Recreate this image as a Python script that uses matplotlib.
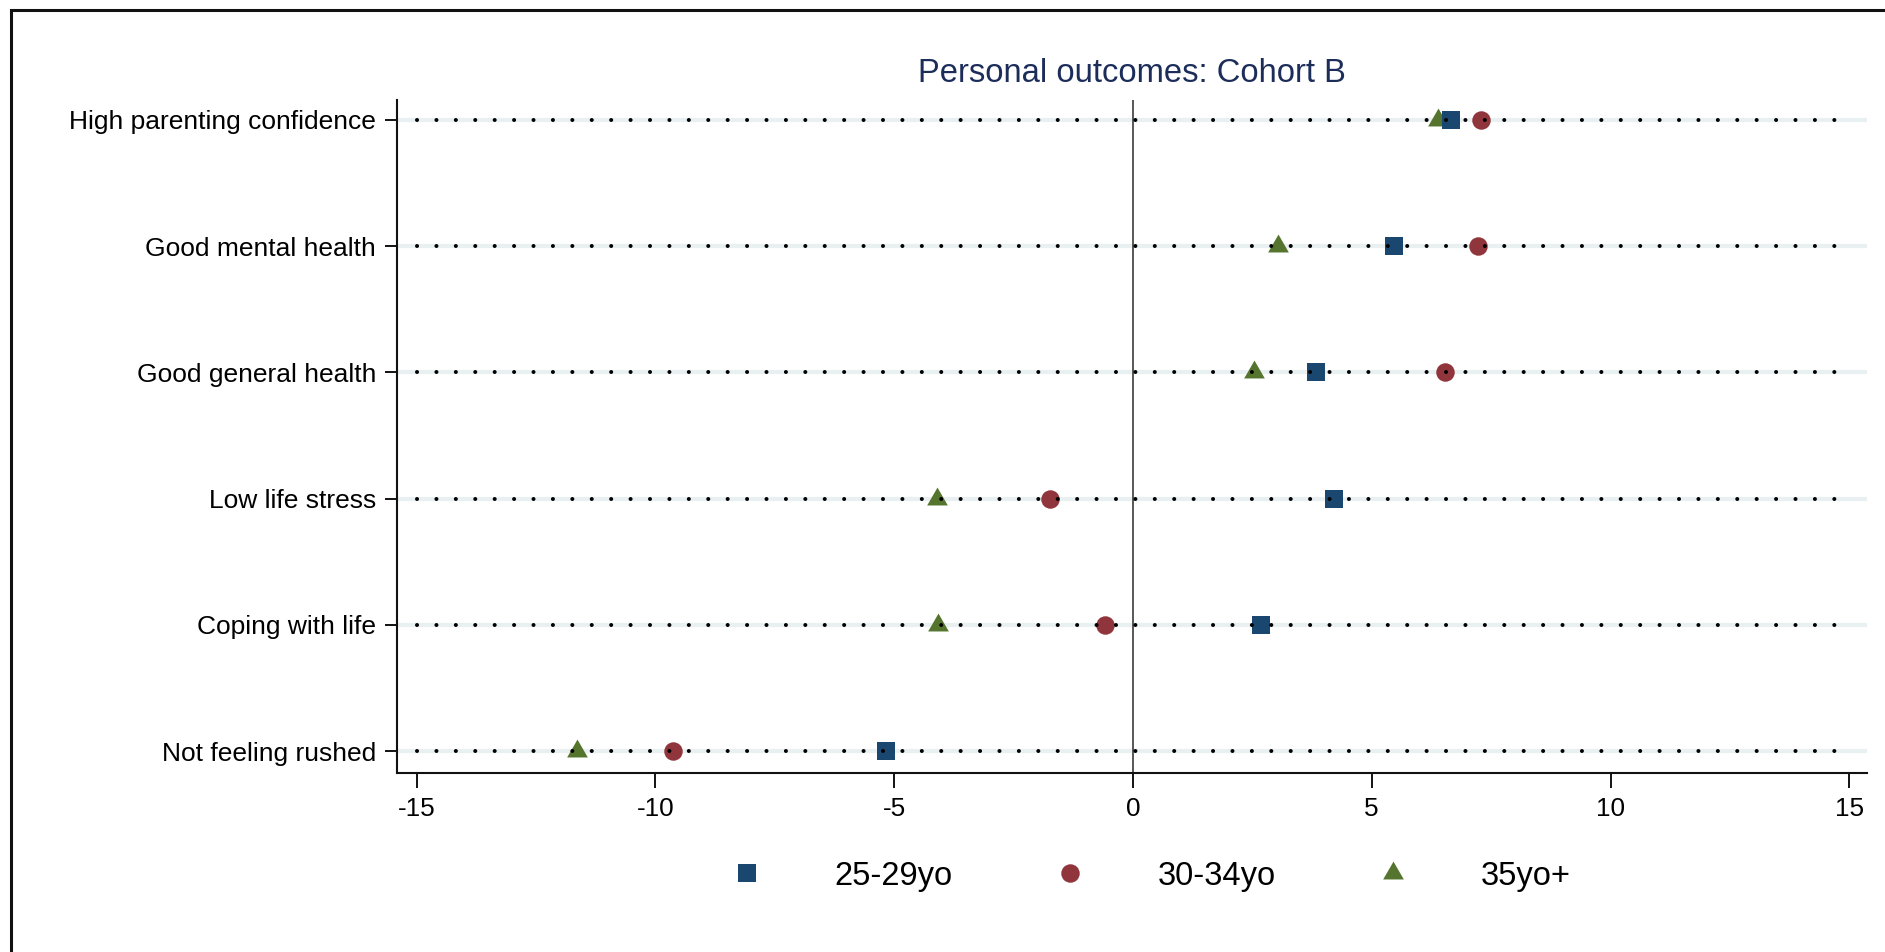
import matplotlib
matplotlib.use("Agg")
import matplotlib.pyplot as plt
from matplotlib.lines import Line2D
from matplotlib.patches import Rectangle

plt.rcParams['font.family'] = ['Liberation Sans', 'DejaVu Sans']

# ---- data ----
categories = ["High parenting confidence", "Good mental health", "Good general health",
              "Low life stress", "Coping with life", "Not feeling rushed"]
age_25_29 = [6.66, 5.46, 3.83, 4.21, 2.69, -5.17]
age_30_34 = [7.29, 7.23, 6.53, -1.74, -0.59, -9.64]
age_35_up = [6.38, 3.03, 2.53, -4.10, -4.08, -11.65]
series_labels = ["25-29yo", "30-34yo", "35yo+"]
xticks = [-15, -10, -5, 0, 5, 10, 15]
title = "Personal outcomes: Cohort B"

# ---- styles ----
c_sq = "#1a476f"
c_ci = "#90353b"
c_tr = "#55752f"
tri = (3, 0, 0)

W, H = 1885, 952
fig = plt.figure(figsize=(W / 100, H / 100), dpi=100)
fig.patch.set_facecolor("white")

ax_l, ax_r, ax_t, ax_b = 397, 1867, 100, 773
ax = fig.add_axes([ax_l / W, 1 - ax_b / H, (ax_r - ax_l) / W, (ax_b - ax_t) / H])

n = len(categories)
ypos = [n - i for i in range(n)]

# light guide lines and dotted lines
lw_dot = 2.9
for y in ypos:
    ax.axhline(y, color="#e8f0f1", lw=3, zorder=1)
    ax.plot([-15, 15], [y, y], color="black", lw=lw_dot, linestyle=(0, (0.01, 13.95 / lw_dot)),
            dash_capstyle="round", zorder=7)

ax.axvline(0, color="#4a4a4a", lw=1.3, zorder=2)

ms_sq, ms_ci, ms_tr = 13.2, 13.3, 17.2
ax.plot(age_35_up, ypos, linestyle="none", marker=tri, ms=ms_tr, color=c_tr, mec=c_tr, mew=0, zorder=4)
ax.plot(age_30_34, ypos, linestyle="none", marker="o", ms=ms_ci, color=c_ci, mec=c_ci, mew=0, zorder=5)
ax.plot(age_25_29, ypos, linestyle="none", marker="s", ms=ms_sq, color=c_sq, mec=c_sq, mew=0, zorder=6)

ax.set_xlim(-15.41, 15.37)
ax.set_ylim(0.826, 6.158)
ax.set_xticks(xticks)
ax.set_xticklabels([str(t) for t in xticks])
ax.set_yticks(ypos)
ax.set_yticklabels(categories)

for s in ["top", "right"]:
    ax.spines[s].set_visible(False)
for s in ["left", "bottom"]:
    ax.spines[s].set_linewidth(1.5)
    ax.spines[s].set_color("#111111")

ax.tick_params(axis="x", direction="out", length=10.5, width=1.3, pad=7, labelsize=18.8, colors="black")
ax.tick_params(axis="y", direction="out", length=8.6, width=1.3, pad=6.5, labelsize=19, colors="black")

ax.set_title(title, fontsize=23.6, color="#1c2d5a", pad=13)

handles = [
    Line2D([], [], linestyle="none", marker="s", ms=ms_sq, color=c_sq, mew=0),
    Line2D([], [], linestyle="none", marker="o", ms=ms_ci, color=c_ci, mew=0),
    Line2D([], [], linestyle="none", marker=tri, ms=ms_tr, color=c_tr, mew=0),
]
fig.legend(handles, series_labels, loc="center", bbox_to_anchor=(1150.7 / W, 1 - 876 / H),
           ncol=3, frameon=False, handlelength=1.0, handletextpad=2.2, columnspacing=3.08,
           fontsize=23.5, borderpad=0, borderaxespad=0, numpoints=1)

# outer frame (left and top edges visible)
fig.add_artist(Rectangle((11 / W, -0.05), 1.2, (1 - 10 / H) + 0.05, transform=fig.transFigure,
                         fill=False, edgecolor="#111111", lw=2.2))

fig.savefig("out.png", dpi=100, facecolor="white")
